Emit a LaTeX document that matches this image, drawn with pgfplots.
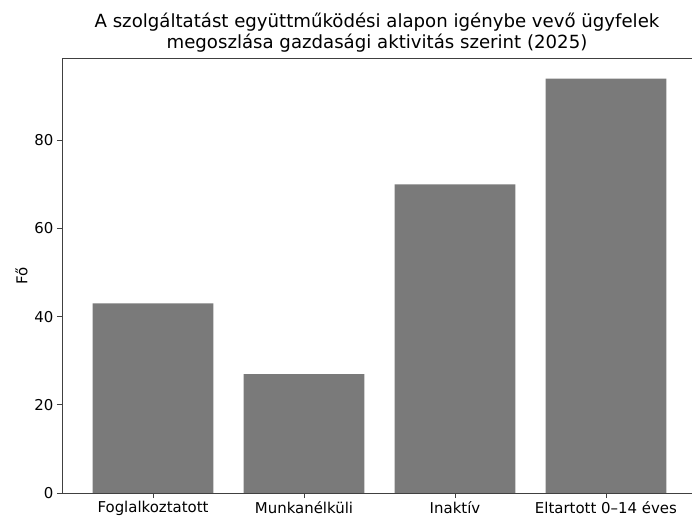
\documentclass[border=0pt]{standalone}
\usepackage{fontspec}
\setmainfont{DejaVu Sans}
\usepackage{pgfplots}
\pgfplotsset{compat=1.18}
\definecolor{bargray}{gray}{0.48}
\definecolor{spine}{gray}{0.25}
\begin{document}
\begin{tikzpicture}
\begin{axis}[
  scale only axis,
  width=630bp, height=435bp,
  xmin=-0.603, xmax=3.57,
  ymin=0, ymax=98.7,
  separate axis lines,
  axis x line*=box,
  axis y line*=left,
  axis line style={spine, line width=0.9bp},
  xtick={0,1,2,3},
  xticklabels={Foglalkoztatott, Munkanélküli, Inaktív, Eltartott 0–14 éves},
  ytick={0,20,40,60,80},
  xtick pos=bottom,
  ytick pos=left,
  tick align=outside,
  major tick length=5bp,
  tick style={spine, line width=0.9bp},
  /pgf/number format/assume math mode=true,
  ticklabel style={font=\fontsize{15}{18}\selectfont},
  ylabel={Fő},
  ylabel style={font=\fontsize{15}{18}\selectfont},
  title={A szolgáltatást együttműködési alapon igénybe vevő ügyfelek\\megoszlása gazdasági aktivitás szerint (2025)},
  title style={align=center, font=\fontsize{18.2}{21}\selectfont, at={(0.5,1)}, anchor=south, yshift=-4bp},
]
\addplot[ybar, bar width=0.8, fill=bargray, draw=none] coordinates {
  (0,43) (1,27) (2,70) (3,94)
};
\end{axis}
\pgfresetboundingbox
\path ([xshift=-62bp,yshift=-26bp]current axis.south west) rectangle ([yshift=58bp]current axis.north east);
\end{tikzpicture}
\end{document}
